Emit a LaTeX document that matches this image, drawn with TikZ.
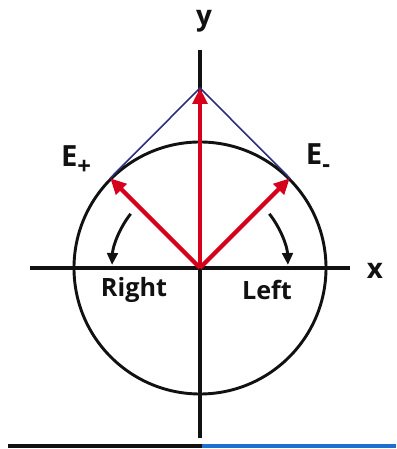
\documentclass[tikz,border=0pt]{standalone}
\usepackage{fontspec}
\setsansfont{Open Sans}
\usetikzlibrary{arrows.meta,calc,positioning}
\definecolor{FieldInk}{HTML}{111111}
\definecolor{FieldRed}{HTML}{D6001C}
\definecolor{FieldNavy}{HTML}{2B2F7A}
\definecolor{FieldBlue}{HTML}{1F6FD1}
\newcommand{\lowidx}[1]{\raisebox{-0.55ex}{\fontsize{18}{20}\selectfont #1}}
\tikzset{
  every node/.style={font=\sffamily\bfseries, text=FieldInk, inner sep=0pt},
  axislabel/.style={font=\sffamily\bfseries\fontsize{21}{24}\selectfont},
  fieldlabel/.style={font=\sffamily\bfseries\fontsize{22}{24}\selectfont},
  sense/.style={font=\sffamily\bfseries\fontsize{19}{22}\selectfont},
  axis/.style={draw=FieldInk, line width=3pt},
  ring/.style={draw=FieldInk, line width=2.2pt},
  vector/.style={-{Triangle[length=12pt,width=11pt]}, draw=FieldRed, line width=3.2pt},
  guide/.style={draw=FieldNavy, line width=1.2pt},
  turn/.style={-{Triangle[length=9pt,width=8pt]}, draw=FieldInk, line width=2.2pt},
}

\begin{document}
\begin{tikzpicture}[x=0.0265cm, y=0.0265cm]
  \useasboundingbox (-200,-181) rectangle (196,268);
  % Axes and the circle traced by the field
  \coordinate (O) at (0,0);
  \coordinate (xL) at (-170,0);
  \coordinate (xR) at (150,0);
  \coordinate (yB) at (0,-170);
  \coordinate (yT) at (0,218);
  \draw[axis] (xL) -- (xR);
  \draw[axis] (yB) -- (yT);
  \draw[ring] (O) circle (126);
  \node[axislabel] (xlab) at (175,-3) {x};
  \node[axislabel] (ylab) at (4,247) {y};
  % Two rotating components and their sum
  \coordinate (Ep) at (135:127);
  \coordinate (Em) at (45:127);
  \coordinate (S) at (0,180);
  \draw[guide] (Ep) -- (S) -- (Em);
  \draw[vector] (O) -- (Ep);
  \draw[vector] (O) -- (Em);
  \draw[vector] (O) -- (S);
  \node[fieldlabel] (Eplab) at (-124,108) {E\lowidx{+}};
  \node[fieldlabel] (Emlab) at (118,110) {E\lowidx{-}};
  % Sense of rotation
  \coordinate (rs) at (142:88);
  \coordinate (ls) at (38:88);
  \draw[turn] (rs) arc[start angle=142, end angle=178, radius=88];
  \draw[turn] (ls) arc[start angle=38, end angle=2, radius=88];
  \node[sense] (right) at (-66,-22) {Right};
  \node[sense] (left) at (67,-22) {Left};
  % Rule under the figure
  \coordinate (r0) at (-192,-178);
  \coordinate (r1) at (2,-178);
  \coordinate (r2) at (196,-178);
  \draw[draw=FieldInk, line width=3pt] (r0) -- (r1);
  \draw[draw=FieldBlue, line width=3pt] (r1) -- (r2);
\end{tikzpicture}
\end{document}
